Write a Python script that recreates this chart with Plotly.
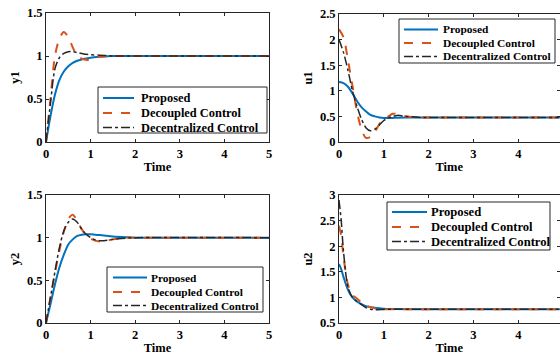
import plotly.graph_objects as go

# ---------------- data ----------------
t_y1 = [0, 0.1, 0.2, 0.3, 0.4, 0.5, 0.6, 0.7, 0.8, 0.9, 1.0, 1.2, 1.5, 2.0, 5.0]
y1_proposed = [0, 0.30, 0.55, 0.72, 0.82, 0.88, 0.92, 0.945, 0.96, 0.97, 0.98, 0.99, 1.0, 1.0, 1.0]
y1_decoupled = [0, 0.50, 1.00, 1.20, 1.28, 1.22, 1.10, 1.00, 0.97, 0.955, 0.96, 0.99, 1.0, 1.0, 1.0]
y1_decentral = [0, 0.45, 0.85, 0.98, 1.03, 1.05, 1.05, 1.04, 1.03, 1.02, 1.015, 1.01, 1.0, 1.0, 1.0]

t_u1 = [0, 0.1, 0.2, 0.3, 0.4, 0.5, 0.6, 0.7, 0.8, 0.9, 1.0, 1.1, 1.2, 1.3, 1.5, 1.8, 2.0, 5.0]
u1_proposed = [1.17, 1.15, 1.08, 0.95, 0.80, 0.68, 0.60, 0.53, 0.50, 0.48, 0.47, 0.47, 0.47, 0.475, 0.48, 0.48, 0.48, 0.48]
u1_decoupled = [2.20, 2.05, 1.60, 1.10, 0.60, 0.25, 0.08, 0.10, 0.20, 0.35, 0.45, 0.50, 0.55, 0.55, 0.50, 0.48, 0.48, 0.48]
u1_decentral = [2.00, 1.75, 1.40, 1.00, 0.70, 0.45, 0.28, 0.22, 0.25, 0.33, 0.42, 0.47, 0.50, 0.52, 0.50, 0.48, 0.48, 0.48]

t_y2 = [0, 0.1, 0.2, 0.3, 0.4, 0.5, 0.6, 0.7, 0.8, 0.9, 1.0, 1.1, 1.2, 1.3, 1.5, 1.8, 2.0, 5.0]
y2_proposed = [0, 0.22, 0.45, 0.65, 0.80, 0.92, 0.98, 1.02, 1.035, 1.04, 1.04, 1.035, 1.03, 1.025, 1.015, 1.005, 1.0, 1.0]
y2_decoupled = [0, 0.30, 0.58, 0.85, 1.07, 1.22, 1.27, 1.20, 1.10, 1.03, 0.99, 0.965, 0.955, 0.96, 0.98, 1.0, 1.0, 1.0]
y2_decentral = [0, 0.30, 0.60, 0.88, 1.08, 1.18, 1.22, 1.18, 1.10, 1.04, 1.00, 0.975, 0.965, 0.965, 0.98, 0.995, 1.0, 1.0]

t_u2 = [0, 0.05, 0.1, 0.2, 0.3, 0.4, 0.5, 0.6, 0.7, 0.8, 1.0, 1.2, 2.0, 5.0]
u2_proposed = [1.65, 1.55, 1.40, 1.15, 1.00, 0.92, 0.87, 0.83, 0.81, 0.80, 0.78, 0.775, 0.77, 0.77]
u2_decoupled = [2.40, 2.20, 1.80, 1.25, 1.05, 0.98, 0.90, 0.84, 0.81, 0.79, 0.77, 0.77, 0.77, 0.77]
u2_decentral = [2.90, 2.50, 1.90, 1.20, 1.00, 0.92, 0.86, 0.80, 0.77, 0.76, 0.765, 0.77, 0.77, 0.77]

series_names = ["Proposed", "Decoupled Control", "Decentralized Control"]
y_titles = ["y1", "u1", "y2", "u2"]
x_title = "Time"

# ---------------- styling ----------------
FONT = "Liberation Serif"
colors = ["#0072BD", "#D95319", "#262626"]
dashes = ["solid", "dash", "dashdot"]
widths = [2, 2, 1.5]

panels = [
    (t_y1, [y1_proposed, y1_decoupled, y1_decentral]),
    (t_u1, [u1_proposed, u1_decoupled, u1_decentral]),
    (t_y2, [y2_proposed, y2_decoupled, y2_decentral]),
    (t_u2, [u2_proposed, u2_decoupled, u2_decentral]),
]

W, H = 560, 358
def px(x):
    return x / W
def py(y):
    return 1 - y / H

x_dom = [[px(46), px(269)], [px(339), px(559.5)], [px(46), px(269)], [px(339), px(559.5)]]
y_dom = [[py(142), py(13)], [py(142), py(14)], [py(323), py(195)], [py(323), py(195)]]
x_rng = [[0, 5], [0, 4.92], [0, 5], [0, 4.92]]
y_rng = [[0, 1.5], [0, 2.5], [0, 1.5], [0.5, 3]]

# legend boxes (pixels): box x0, x1, y0, y1, row ys, sample x0, x1, text x, font size
legend_geo = [
    dict(box=(98, 267, 87, 133), rows=(98, 113, 127.5), sx=(103, 134), tx=139, fs=12.4),
    dict(box=(399, 555, 19, 63), rows=(29.5, 43, 56.5), sx=(404, 438), tx=441, fs=11.4),
    dict(box=(107, 263, 267, 312), rows=(277.5, 292, 305.5), sx=(113, 147), tx=149, fs=11.4),
    dict(box=(387, 550, 202, 250), rows=(212, 227, 241.5), sx=(392, 427), tx=429, fs=12.6),
]

fig = go.Figure()
layout = dict(
    width=W, height=H,
    margin=dict(l=0, r=0, t=0, b=0, autoexpand=False),
    paper_bgcolor="white", plot_bgcolor="white",
    font=dict(family=FONT, size=12, color="black"),
    showlegend=False,
    hovermode=False,
)
shapes = []
annotations = []

for i, (t, ys) in enumerate(panels):
    k = "" if i == 0 else str(i + 1)
    for j, y in enumerate(ys):
        fig.add_trace(go.Scatter(
            x=t, y=y, mode="lines", name=series_names[j],
            line=dict(color=colors[j], dash=dashes[j], width=widths[j], shape="spline", smoothing=0.8),
            xaxis="x" + k, yaxis="y" + k,
        ))
    axcommon = dict(
        showline=True, linecolor="#262626", linewidth=1, mirror="ticks",
        ticks="inside", ticklen=3, tickcolor="#262626",
        showgrid=False, zeroline=False, automargin=False,
        tickfont=dict(family=FONT, size=12.5, color="black", weight="bold"),
    )
    layout["xaxis" + k] = dict(
        domain=x_dom[i], range=x_rng[i], dtick=1, anchor="y" + k,
        title=dict(text="<b>%s</b>" % x_title, font=dict(family=FONT, size=12.5), standoff=2),
        **axcommon,
    )
    layout["yaxis" + k] = dict(
        domain=y_dom[i], range=y_rng[i], dtick=0.5, anchor="x" + k,
        title=dict(text="<b>%s</b>" % y_titles[i], font=dict(family=FONT, size=12.5), standoff=4),
        **axcommon,
    )
    # hand-built legend (MATLAB style: compact rows)
    g = legend_geo[i]
    bx0, bx1, by0, by1 = g["box"]
    shapes.append(dict(type="rect", xref="paper", yref="paper",
                       x0=px(bx0), x1=px(bx1), y0=py(by1), y1=py(by0),
                       line=dict(color="#262626", width=1), fillcolor="white", layer="above"))
    for j in range(3):
        ry = g["rows"][j]
        shapes.append(dict(type="line", xref="paper", yref="paper",
                           x0=px(g["sx"][0]), x1=px(g["sx"][1]), y0=py(ry), y1=py(ry),
                           line=dict(color=colors[j], dash=dashes[j], width=widths[j]), layer="above"))
        annotations.append(dict(text="<b>%s</b>" % series_names[j], xref="paper", yref="paper",
                                x=px(g["tx"]), y=py(ry), xanchor="left", yanchor="middle",
                                showarrow=False, font=dict(family=FONT, size=g["fs"], color="black")))

layout["shapes"] = shapes
layout["annotations"] = annotations
fig.update_layout(**layout)
fig.write_html(
    "out.html",
    config={"displayModeBar": False, "staticPlot": True},
    post_script="document.body.style.margin='0';document.body.style.overflow='hidden';"
                "document.documentElement.style.overflow='hidden';",
)
